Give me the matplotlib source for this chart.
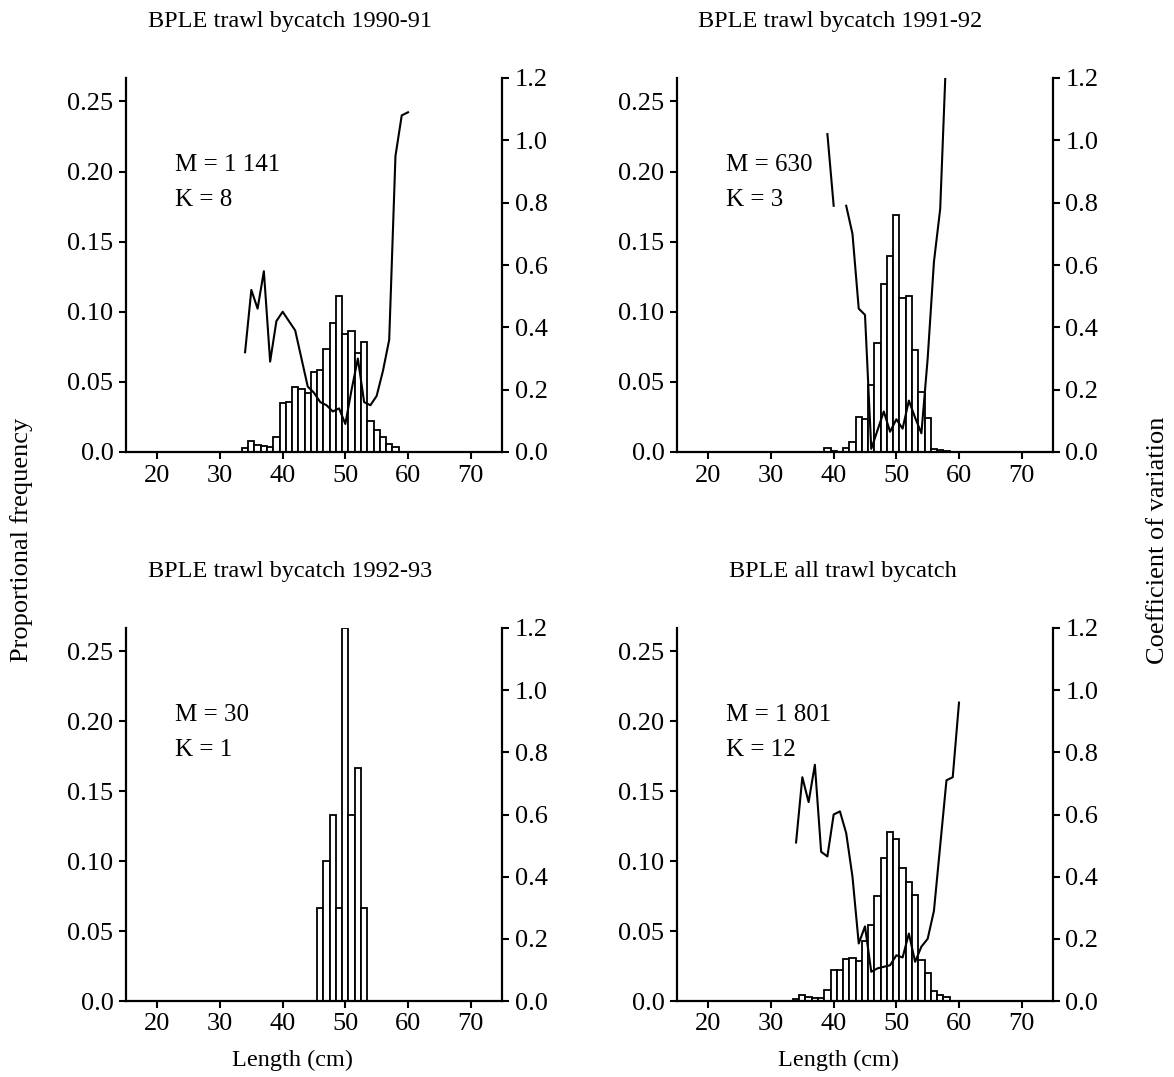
# BPLE trawl bycatch length frequencies with CV overlay

import numpy as np
import matplotlib.pyplot as plt

plt.rcParams['font.family'] = ['Liberation Serif', 'DejaVu Serif']
plt.rcParams['font.size'] = 19

# --- data ---
titles = ['BPLE trawl bycatch 1990-91', 'BPLE trawl bycatch 1991-92',
          'BPLE trawl bycatch 1992-93', 'BPLE all trawl bycatch']
m_text = ['M = 1 141', 'M = 630', 'M = 30', 'M = 1 801']
k_text = ['K = 8', 'K = 3', 'K = 1', 'K = 12']

len_9091 = list(range(34, 59))
freq_9091 = [0.003, 0.0076, 0.005, 0.004, 0.0033, 0.0107, 0.035, 0.036, 0.046,
             0.0448, 0.042, 0.057, 0.0586, 0.0736, 0.092, 0.111, 0.084, 0.086,
             0.0705, 0.0786, 0.0224, 0.0157, 0.0105, 0.0057, 0.0038]
cvlen_9091 = list(range(34, 61))
cv_9091 = [0.32, 0.52, 0.46, 0.58, 0.29, 0.42, 0.45, 0.42, 0.39, 0.30, 0.21,
           0.19, 0.16, 0.15, 0.13, 0.14, 0.09, 0.20, 0.30, 0.16, 0.15, 0.18,
           0.26, 0.36, 0.95, 1.08, 1.09]

len_9192 = list(range(39, 60))
freq_9192 = [0.003, 0.001, 0.0, 0.003, 0.0074, 0.025, 0.0236, 0.048, 0.078,
             0.12, 0.14, 0.169, 0.11, 0.111, 0.0724, 0.043, 0.024, 0.0024,
             0.0014, 0.0005, 0.0003]
cvlen_9192 = list(range(39, 59))
cv_9192 = [1.02, 0.79, np.nan, 0.79, 0.70, 0.46, 0.44, 0.01, 0.07, 0.13,
           0.065, 0.105, 0.075, 0.165, 0.11, 0.06, 0.30, 0.61, 0.78, 1.30]

len_9293 = list(range(46, 54))
freq_9293 = [0.0667, 0.1, 0.1333, 0.0667, 0.2667, 0.1333, 0.1667, 0.0667]

len_all = list(range(34, 59))
freq_all = [0.0012, 0.0043, 0.003, 0.0024, 0.002, 0.0079, 0.022, 0.022, 0.030,
            0.0307, 0.0286, 0.043, 0.054, 0.075, 0.102, 0.121, 0.1155, 0.0948,
            0.085, 0.0757, 0.0293, 0.0198, 0.0074, 0.0043, 0.0026]
cvlen_all = list(range(34, 61))
cv_all = [0.51, 0.72, 0.64, 0.76, 0.48, 0.465, 0.60, 0.61, 0.54, 0.40, 0.185,
          0.24, 0.094, 0.105, 0.11, 0.115, 0.147, 0.14, 0.217, 0.126, 0.175,
          0.20, 0.29, 0.50, 0.71, 0.72, 0.96]

panels = [
    (len_9091, freq_9091, cvlen_9091, cv_9091),
    (len_9192, freq_9192, cvlen_9192, cv_9192),
    (len_9293, freq_9293, None, None),
    (len_all, freq_all, cvlen_all, cv_all),
]

freq_ticks = [0.0, 0.05, 0.10, 0.15, 0.20, 0.25]
freq_labels = ['0.0', '0.05', '0.10', '0.15', '0.20', '0.25']
cv_ticks = [0.0, 0.2, 0.4, 0.6, 0.8, 1.0, 1.2]
x_ticks = [20, 30, 40, 50, 60, 70]


def _main():
    W, H = 1174, 1077
    fig = plt.figure(figsize=(W / 100, H / 100), dpi=100)

    # axes boxes in pixels: (left, top, right, bottom)
    boxes = [(126, 78, 502, 452), (677, 78, 1053, 452),
             (126, 628, 502, 1001), (677, 628, 1053, 1001)]
    title_pos = [(290, 22), (840, 22), (290, 571), (843, 571)]

    for i, (lens, freq, cvlen, cv) in enumerate(panels):
        l, t, r, b = boxes[i]
        ax = fig.add_axes([l / W, 1 - b / H, (r - l) / W, (b - t) / H])
        ax.bar(lens, freq, width=1.0, color='white', edgecolor='black',
               linewidth=1.3)
        ax.set_xlim(15, 75)
        ax.set_ylim(0, 0.2667)
        ax.set_xticks(x_ticks)
        ax.set_yticks(freq_ticks)
        ax.set_yticklabels(freq_labels)
        ax.spines['top'].set_visible(False)
        ax.spines['right'].set_visible(False)
        for s in ('left', 'bottom'):
            ax.spines[s].set_linewidth(1.6)
        ax.tick_params(direction='out', length=5, width=1.5, pad=4)

        ax2 = ax.twinx()
        if cv is not None:
            ax2.plot(cvlen, cv, color='black', linewidth=1.5)
        ax2.set_ylim(0, 1.2)
        ax2.set_yticks(cv_ticks)
        ax2.set_yticklabels(['%.1f' % v for v in cv_ticks])
        for s in ('top', 'left', 'bottom'):
            ax2.spines[s].set_visible(False)
        ax2.spines['right'].set_linewidth(1.6)
        ax2.tick_params(direction='out', length=5, width=1.5, pad=4)

        ax.text(0.13, 0.767, m_text[i], transform=ax.transAxes, va='center',
                fontsize=18)
        ax.text(0.13, 0.674, k_text[i], transform=ax.transAxes, va='center',
                fontsize=18)

        tx, ty = title_pos[i]
        fig.text(tx / W, 1 - ty / H, titles[i], ha='center', va='center',
                 fontsize=17.5)

    fig.text(22 / W, 1 - 540 / H, 'Proportional frequency', rotation=90,
             ha='center', va='center')
    fig.text(1158 / W, 1 - 540 / H, 'Coefficient of variation', rotation=90,
             ha='center', va='center')
    fig.text(292 / W, 1 - 1060 / H, 'Length (cm)', ha='center', va='center',
             fontsize=17.5)
    fig.text(838 / W, 1 - 1060 / H, 'Length (cm)', ha='center', va='center',
             fontsize=17.5)

    fig.savefig('out.png', dpi=100)


if __name__ == '__main__':
    _main()
